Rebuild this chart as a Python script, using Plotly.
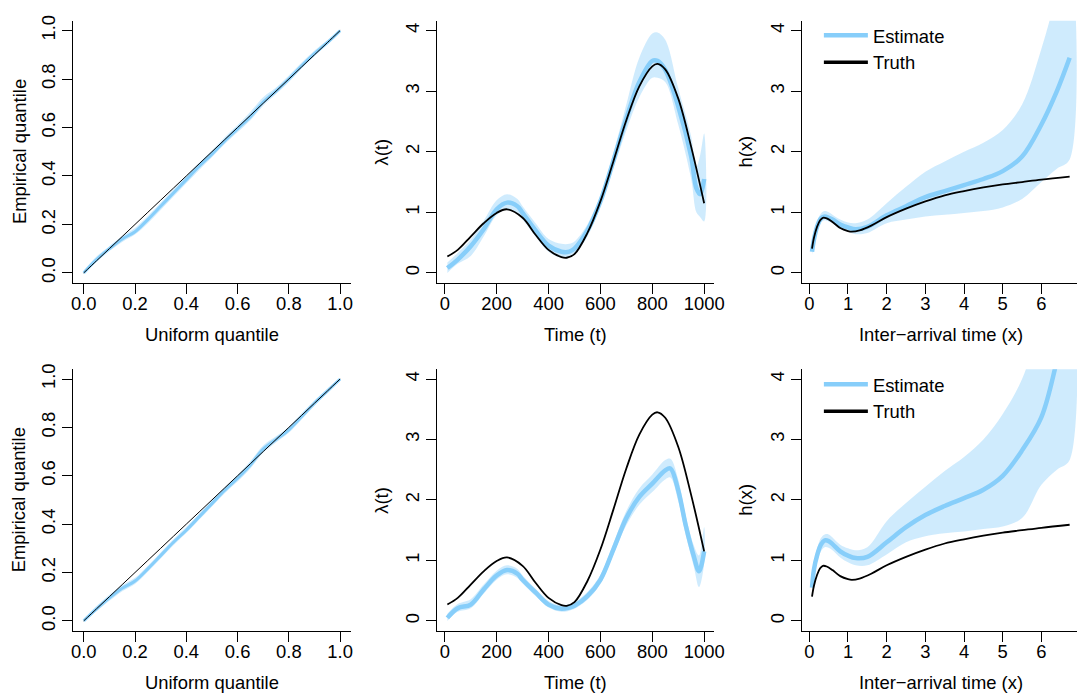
import plotly.graph_objects as go

# ---------------- data ----------------
# QQ panels (uniform vs empirical quantile)
QQ_U = [0.0, 0.05, 0.1, 0.15, 0.2, 0.25, 0.3, 0.35, 0.4, 0.45, 0.5, 0.55, 0.6, 0.65, 0.7, 0.75, 0.8, 0.85, 0.9, 0.95, 1.0]
QQ_TOP_EST = [0.0, 0.055, 0.10, 0.14, 0.17, 0.22, 0.275, 0.33, 0.385, 0.44, 0.49, 0.545, 0.595, 0.645, 0.705, 0.75, 0.80, 0.855, 0.905, 0.95, 1.0]
QQ_TOP_LO = [0.0, 0.045, 0.09, 0.128, 0.158, 0.205, 0.26, 0.315, 0.37, 0.425, 0.477, 0.532, 0.58, 0.63, 0.69, 0.738, 0.788, 0.843, 0.895, 0.942, 0.995]
QQ_TOP_HI = [0.01, 0.068, 0.11, 0.152, 0.185, 0.235, 0.29, 0.345, 0.40, 0.455, 0.505, 0.56, 0.61, 0.665, 0.725, 0.765, 0.815, 0.868, 0.918, 0.96, 1.0]
QQ_BOT_EST = [0.0, 0.05, 0.095, 0.135, 0.165, 0.215, 0.27, 0.325, 0.375, 0.43, 0.485, 0.54, 0.59, 0.645, 0.71, 0.75, 0.79, 0.845, 0.90, 0.95, 1.0]
QQ_BOT_LO = [0.0, 0.04, 0.083, 0.123, 0.153, 0.203, 0.258, 0.313, 0.363, 0.418, 0.473, 0.528, 0.576, 0.63, 0.695, 0.738, 0.778, 0.833, 0.89, 0.942, 0.995]
QQ_BOT_HI = [0.01, 0.062, 0.108, 0.148, 0.178, 0.228, 0.283, 0.338, 0.388, 0.443, 0.498, 0.553, 0.604, 0.66, 0.725, 0.763, 0.803, 0.858, 0.912, 0.96, 1.0]

# Intensity panels lambda(t)
T_TRUE = [10, 50, 100, 150, 200, 240, 300, 350, 400, 450, 470, 500, 550, 600, 650, 700, 750, 800, 820, 850, 900, 950, 1000]
LAM_TRUE = [0.27, 0.38, 0.60, 0.82, 0.99, 1.05, 0.91, 0.63, 0.38, 0.26, 0.25, 0.31, 0.66, 1.18, 1.84, 2.52, 3.08, 3.41, 3.45, 3.36, 2.88, 2.08, 1.15]

T_TOP = [10, 50, 100, 150, 200, 240, 280, 300, 350, 400, 450, 480, 500, 550, 600, 650, 700, 750, 800, 820, 850, 900, 950, 970, 985, 1000]
LAM_TOP_EST = [0.08, 0.22, 0.44, 0.72, 1.05, 1.16, 1.10, 0.99, 0.70, 0.45, 0.35, 0.35, 0.40, 0.70, 1.18, 1.85, 2.55, 3.15, 3.50, 3.50, 3.35, 2.75, 1.92, 1.40, 1.30, 1.55]
LAM_TOP_LO = [0.0, 0.15, 0.28, 0.60, 0.95, 1.05, 0.98, 0.88, 0.60, 0.35, 0.25, 0.26, 0.30, 0.60, 1.10, 1.72, 2.35, 2.90, 3.22, 3.22, 3.15, 2.45, 1.55, 1.00, 0.92, 0.85]
LAM_TOP_HI = [0.17, 0.33, 0.55, 0.86, 1.20, 1.30, 1.22, 1.10, 0.82, 0.56, 0.48, 0.48, 0.52, 0.80, 1.28, 1.98, 2.78, 3.55, 3.95, 3.97, 3.85, 3.05, 2.25, 1.75, 1.95, 2.30]

T_BOT = [10, 50, 100, 150, 200, 240, 280, 300, 350, 400, 450, 480, 500, 550, 600, 650, 700, 750, 800, 850, 870, 900, 930, 960, 980, 1000]
LAM_BOT_EST = [0.05, 0.21, 0.27, 0.52, 0.75, 0.84, 0.78, 0.68, 0.47, 0.27, 0.20, 0.22, 0.25, 0.41, 0.68, 1.18, 1.70, 2.05, 2.27, 2.49, 2.52, 2.16, 1.56, 1.07, 0.82, 1.15]
LAM_BOT_LO = [0.0, 0.15, 0.21, 0.45, 0.68, 0.77, 0.71, 0.62, 0.41, 0.22, 0.15, 0.17, 0.20, 0.35, 0.61, 1.10, 1.58, 1.92, 2.13, 2.34, 2.37, 1.98, 1.40, 0.90, 0.56, 0.95]
LAM_BOT_HI = [0.12, 0.28, 0.36, 0.60, 0.83, 0.92, 0.86, 0.75, 0.53, 0.33, 0.26, 0.28, 0.31, 0.48, 0.76, 1.28, 1.82, 2.19, 2.42, 2.66, 2.68, 2.34, 1.72, 1.25, 1.08, 1.55]

# Hazard panels h(x)
X_TRUE = [0.07, 0.12, 0.2, 0.28, 0.35, 0.45, 0.6, 0.8, 1.0, 1.1, 1.3, 1.6, 2.0, 2.5, 3.0, 3.5, 4.0, 4.5, 5.0, 5.5, 6.0, 6.73]
H_TRUE = [0.40, 0.58, 0.76, 0.87, 0.91, 0.90, 0.84, 0.74, 0.69, 0.68, 0.70, 0.78, 0.92, 1.06, 1.18, 1.28, 1.35, 1.41, 1.46, 1.50, 1.54, 1.59]

X_EST = [0.07, 0.12, 0.2, 0.3, 0.4, 0.5, 0.6, 0.8, 1.0, 1.2, 1.5, 2.0, 2.5, 3.0, 3.5, 4.0, 4.5, 5.0, 5.5, 6.0, 6.4, 6.73]
H_TOP_EST = [0.35, 0.55, 0.76, 0.90, 0.93, 0.91, 0.88, 0.80, 0.75, 0.72, 0.76, 0.95, 1.10, 1.25, 1.35, 1.45, 1.55, 1.68, 1.92, 2.45, 3.00, 3.55]
H_TOP_LO = [0.30, 0.48, 0.68, 0.83, 0.87, 0.85, 0.82, 0.73, 0.68, 0.64, 0.66, 0.82, 0.88, 0.93, 0.96, 0.99, 1.02, 1.08, 1.22, 1.50, 1.72, 1.87]
H_TOP_HI = [0.42, 0.62, 0.84, 0.98, 1.02, 1.00, 0.96, 0.88, 0.83, 0.82, 0.88, 1.15, 1.42, 1.67, 1.84, 2.00, 2.15, 2.36, 2.78, 3.70, 4.60, 5.30]
H_BOT_EST = [0.55, 0.85, 1.08, 1.26, 1.33, 1.32, 1.27, 1.15, 1.08, 1.04, 1.06, 1.30, 1.55, 1.75, 1.90, 2.03, 2.17, 2.40, 2.82, 3.37, 4.30, 5.20]
H_BOT_LO = [0.48, 0.76, 0.97, 1.15, 1.22, 1.21, 1.17, 1.05, 0.97, 0.92, 0.92, 1.10, 1.30, 1.40, 1.45, 1.48, 1.52, 1.56, 1.70, 2.25, 2.50, 2.66]
H_BOT_HI = [0.62, 0.95, 1.18, 1.37, 1.43, 1.43, 1.38, 1.26, 1.20, 1.17, 1.22, 1.65, 1.95, 2.22, 2.48, 2.71, 3.00, 3.42, 4.00, 5.00, 5.80, 6.20]

QQ_TICKS = [0.0, 0.2, 0.4, 0.6, 0.8, 1.0]
T_TICKS = [0, 200, 400, 600, 800, 1000]
LAM_TICKS = [0, 1, 2, 3, 4]
X_TICKS = [0, 1, 2, 3, 4, 5, 6]

# ---------------- style ----------------
W, H = 1087, 697
FONT = "Liberation Sans, Arial, Helvetica, sans-serif"
FS = 18.4
EST_COL = "rgb(135,206,250)"
BAND_COL = "rgba(135,206,250,0.4)"

fig = go.Figure()


def band(x, lo, hi, xa, ya):
    fig.add_trace(go.Scatter(x=list(x) + list(x)[::-1], y=list(hi) + list(lo)[::-1],
                             fill="toself", fillcolor=BAND_COL, mode="lines",
                             line=dict(width=0, shape="spline"), hoverinfo="skip",
                             showlegend=False, xaxis=xa, yaxis=ya))


def line(x, y, xa, ya, color, width):
    fig.add_trace(go.Scatter(x=x, y=y, mode="lines", line=dict(color=color, width=width, shape="spline"),
                             showlegend=False, xaxis=xa, yaxis=ya))


# panel 1 / 4 : QQ
band(QQ_U, QQ_TOP_LO, QQ_TOP_HI, "x", "y")
line(QQ_U, QQ_TOP_EST, "x", "y", EST_COL, 3)
line(QQ_U, QQ_U, "x", "y", "black", 1)
band(QQ_U, QQ_BOT_LO, QQ_BOT_HI, "x4", "y4")
line(QQ_U, QQ_BOT_EST, "x4", "y4", EST_COL, 3)
line(QQ_U, QQ_U, "x4", "y4", "black", 1)

# panel 2 / 5 : intensity
band(T_TOP, LAM_TOP_LO, LAM_TOP_HI, "x2", "y2")
line(T_TOP, LAM_TOP_EST, "x2", "y2", EST_COL, 4.5)
line(T_TRUE, LAM_TRUE, "x2", "y2", "black", 1.8)
band(T_BOT, LAM_BOT_LO, LAM_BOT_HI, "x5", "y5")
line(T_BOT, LAM_BOT_EST, "x5", "y5", EST_COL, 4.5)
line(T_TRUE, LAM_TRUE, "x5", "y5", "black", 1.8)

# panel 3 / 6 : hazard
band(X_EST, H_TOP_LO, H_TOP_HI, "x3", "y3")
line(X_EST, H_TOP_EST, "x3", "y3", EST_COL, 4.5)
line(X_TRUE, H_TRUE, "x3", "y3", "black", 1.8)
band(X_EST, H_BOT_LO, H_BOT_HI, "x6", "y6")
line(X_EST, H_BOT_EST, "x6", "y6", EST_COL, 4.5)
line(X_TRUE, H_TRUE, "x6", "y6", "black", 1.8)

# legend entries (two legends)
for lg, xa, ya in (("legend", "x3", "y3"), ("legend2", "x6", "y6")):
    fig.add_trace(go.Scatter(x=[None], y=[None], mode="lines", name="Estimate",
                             line=dict(color=EST_COL, width=4.5), legend=lg, xaxis=xa, yaxis=ya))
    fig.add_trace(go.Scatter(x=[None], y=[None], mode="lines", name="Truth",
                             line=dict(color="black", width=3.5), legend=lg, xaxis=xa, yaxis=ya))

# ---------------- axes ----------------
def px_x(p):
    return p / W


def px_y(p):
    return 1 - p / H


COLS = [(72, 352.7), (440, 720.4), (809, 1087)]
ROWS = [(15, 279), (366.5, 630)]
XR = [[-0.041, 1.0416], [-29.4, 1039.7], [-0.187, 6.92]]
YR = [[-0.04, 1.04], [-0.16, 4.16], [-0.16, 4.16]]
XT = [QQ_TICKS, T_TICKS, X_TICKS]
YT = [QQ_TICKS, LAM_TICKS, LAM_TICKS]
FMT = [lambda v: f"{v:.1f}", lambda v: f"{v:g}", lambda v: f"{v:g}"]

axis_common = dict(showline=True, linecolor="black", linewidth=1, ticks="outside", ticklen=10,
                   tickwidth=1, tickcolor="black", showgrid=False, zeroline=False,
                   tickfont=dict(family=FONT, size=FS, color="black"), fixedrange=True)

layout = {}
for r, (yt, yb) in enumerate(ROWS):
    for c, (xl, xr) in enumerate(COLS):
        i = r * 3 + c + 1
        sx = "" if i == 1 else str(i)
        layout["xaxis" + sx] = dict(domain=[px_x(xl), px_x(xr)], range=XR[c], anchor="y" + sx,
                                    tickvals=XT[c], ticktext=[FMT[c](v) for v in XT[c]],
                                    ticklabelstandoff=-6, **axis_common)
        layout["yaxis" + sx] = dict(domain=[px_y(yb), px_y(yt)], range=YR[c], anchor="x" + sx,
                                    tickvals=YT[c], ticktext=[FMT[c](v) for v in YT[c]],
                                    tickangle=-90, ticklabelstandoff=0, **axis_common)

# axis titles
XTITLES = ["Uniform quantile", "Time (t)", "Inter\u2212arrival time (x)"]
YTITLES = ["Empirical quantile", "\u03bb(t)", "h(x)"]
XT_CENTER = [212, 580, 949]
YT_X = [17.5, 384, 752]
XT_Y = [331, 682]
anns = []
for r, (yt, yb) in enumerate(ROWS):
    for c in range(3):
        anns.append(dict(text=XTITLES[c], x=px_x(XT_CENTER[c]), y=px_y(XT_Y[r]), xref="paper", yref="paper",
                         showarrow=False, xanchor="center", yanchor="middle",
                         font=dict(family=FONT, size=FS, color="black")))
        anns.append(dict(text=YTITLES[c], x=px_x(YT_X[c]), y=px_y((yt + yb) / 2), xref="paper", yref="paper",
                         showarrow=False, xanchor="center", yanchor="middle", textangle=-90,
                         font=dict(family=FONT, size=FS, color="black")))

leg_common = dict(xanchor="left", yanchor="top", bgcolor="rgba(0,0,0,0)", borderwidth=0,
                  font=dict(family=FONT, size=FS, color="black"), tracegroupgap=0, itemwidth=44)

fig.update_layout(width=W, height=H, autosize=False, margin=dict(l=0, r=0, t=0, b=0),
                  paper_bgcolor="white", plot_bgcolor="white", showlegend=True,
                  annotations=anns,
                  legend=dict(x=px_x(826), y=px_y(11), **leg_common),
                  legend2=dict(x=px_x(826), y=px_y(363), **leg_common),
                  **layout)

fig.write_html("out.html")
